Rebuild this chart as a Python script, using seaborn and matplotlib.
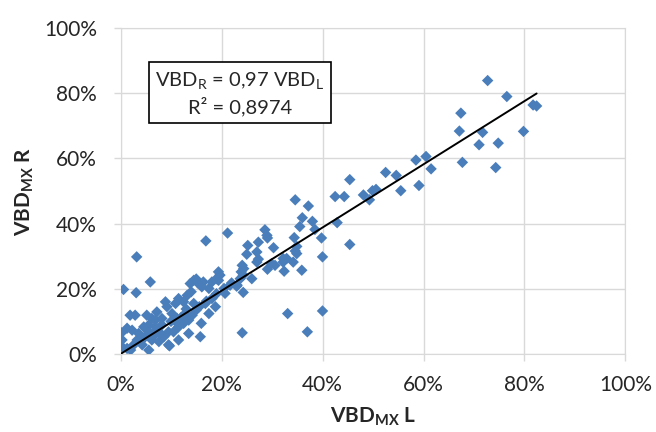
import numpy as np
import pandas as pd
import matplotlib
matplotlib.use("Agg")
import matplotlib.pyplot as plt
from matplotlib.ticker import PercentFormatter
import seaborn as sns

# VBD_MX left vs right, in percent
vbd_l = [72.7, 76.5, 67.4, 67.1, 71.7, 71.0, 74.8, 79.8, 81.7, 82.4, 67.7, 74.3, 61.5,
         60.5, 58.5, 59.1, 55.5, 54.6, 52.5, 50.6, 49.9, 49.3, 48.1, 44.3, 42.5, 45.4,
         42.9, 45.4, 39.8, 40.0, 40.0, 34.6, 37.2, 36.0, 38.0, 35.5, 38.5, 21.2, 28.6,
         29.0, 29.1, 34.4, 27.3, 25.2, 34.9, 30.3, 27.0, 25.0, 34.6, 34.9, 32.2, 32.9,
         27.3, 27.0, 29.9, 30.6, 32.2, 34.2, 29.1, 32.4, 35.9, 26.0, 24.1, 24.4, 23.9,
         24.3, 23.7, 19.7, 19.0, 19.4, 22.0, 23.0, 21.7, 24.3, 20.7, 33.1, 24.1, 37.0,
         16.9, 5.9, 0.6, 3.1, 3.2, 14.5, 15.3, 18.1, 16.1, 17.5, 14.0, 13.2, 11.5, 12.5,
         10.9, 8.9, 9.2, 14.5, 15.6, 16.8, 18.1, 18.8, 17.5, 16.0, 1.9, 2.9, 5.2, 6.2,
         7.2, 6.9, 0.2, 1.3, 0.3, 2.3, 3.6, 4.6, 4.9, 5.6, 6.2, 8.2, 9.5, 8.6, 10.5,
         11.5, 12.5, 13.5, 14.2, 12.8, 11.2, 10.2, 8.2, 5.6, 6.9, 1.3, 0.3, 2.6, 4.3,
         5.6, 3.3, 7.6, 9.5, 11.5, 13.5, 15.8, 9.7, 19.4, 15.0, 13.8, 16.4, 20.5, 23.1,
         10.0, 12.0, 15.0, 17.0, 19.0, 7.0, 4.0, 8.0, 2.0, 6.5, 11.0, 13.0]
vbd_r = [83.9, 79.0, 73.9, 68.4, 68.0, 64.2, 64.7, 68.3, 76.4, 76.1, 58.8, 57.2, 56.8,
         60.6, 59.5, 51.7, 50.1, 54.8, 55.7, 50.5, 50.1, 47.3, 48.8, 48.3, 48.3, 53.5,
         40.3, 33.6, 35.6, 29.8, 13.2, 47.3, 45.4, 41.8, 40.7, 39.1, 38.2, 37.1, 38.1,
         36.4, 35.6, 35.7, 34.3, 33.3, 33.0, 32.6, 31.3, 30.6, 31.6, 30.8, 29.3, 29.3,
         29.1, 28.2, 27.7, 27.2, 28.2, 28.2, 26.0, 25.4, 25.7, 23.1, 27.2, 26.2, 25.2,
         24.2, 23.1, 24.2, 23.1, 22.6, 21.8, 20.8, 21.1, 18.9, 18.6, 12.4, 6.5, 6.8,
         34.7, 22.1, 19.8, 18.8, 29.8, 22.6, 21.8, 22.1, 20.6, 20.1, 19.1, 18.0, 17.0,
         16.0, 15.5, 16.0, 14.5, 15.5, 14.5, 15.5, 17.0, 14.5, 12.4, 9.4, 11.9, 11.9,
         11.9, 10.9, 12.9, 10.4, 6.5, 7.9, 4.3, 7.3, 6.3, 8.3, 5.3, 6.8, 4.3, 8.9, 6.8,
         5.3, 6.8, 8.3, 9.4, 10.4, 11.9, 12.4, 10.9, 12.4, 10.9, 8.9, 8.3, 1.7, 2.2,
         2.8, 2.8, 1.2, 4.3, 3.8, 2.8, 4.3, 6.3, 5.3, 2.5, 25.2, 23.0, 21.6, 22.1, 20.1,
         21.1, 10.0, 11.2, 13.5, 16.2, 18.5, 7.2, 4.0, 6.2, 1.2, 5.5, 9.8, 13.8]

slope = 0.97
r2 = 0.8974

df = pd.DataFrame({"L": vbd_l, "R": vbd_r})
line_x = np.array([0, max(vbd_l)])

sns.set_style("white")
plt.rcParams["font.family"] = ["Lato", "DejaVu Sans"]
plt.rcParams["mathtext.fontset"] = "custom"
plt.rcParams["mathtext.rm"] = "Lato"
plt.rcParams["mathtext.bf"] = "Lato:bold"
plt.rcParams["mathtext.it"] = "Lato:italic"

fig = plt.figure(figsize=(6.56, 4.32), dpi=100)
ax = fig.add_axes([0.1837, 0.1806, 0.7698, 0.7544])

grid_c = "#d9d9d9"
ax.set_axisbelow(True)
ax.grid(True, color=grid_c, lw=1)

sns.scatterplot(data=df, x="L", y="R", marker="D", s=34, color="#4a7ebb",
                edgecolor="none", ax=ax, zorder=3)
sns.lineplot(x=line_x, y=slope * line_x, color="black", lw=1.4, ax=ax, zorder=4)

ax.set_xlim(0, 100)
ax.set_ylim(0, 100)
ax.set_xticks(range(0, 101, 20))
ax.set_yticks(range(0, 101, 20))
ax.xaxis.set_major_formatter(PercentFormatter(100, decimals=0))
ax.yaxis.set_major_formatter(PercentFormatter(100, decimals=0))
ax.tick_params(labelsize=15, colors="#262626", length=5, width=1, color=grid_c,
               bottom=True, left=True)
ax.tick_params(axis="x", pad=10)
ax.tick_params(axis="y", pad=12)
for sp in ax.spines.values():
    sp.set_color(grid_c)

ax.set_xlabel(r"VBD$_{\mathbf{MX}}$ L", fontsize=15, fontweight="bold", labelpad=8)
ax.set_ylabel(r"VBD$_{\mathbf{MX}}$ R", fontsize=15, fontweight="bold", labelpad=6)

eq = r"VBD$_{\mathrm{R}}$ = 0,97 VBD$_{\mathrm{L}}$" + "\n" + "R² = 0,8974"
ax.text(0.236, 0.80, eq, transform=ax.transAxes, ha="center", va="center",
        fontsize=14.5, linespacing=1.35,
        bbox=dict(boxstyle="square,pad=0.32", fc="white", ec="black", lw=1.2), zorder=5)

fig.savefig("out.png", dpi=100)
